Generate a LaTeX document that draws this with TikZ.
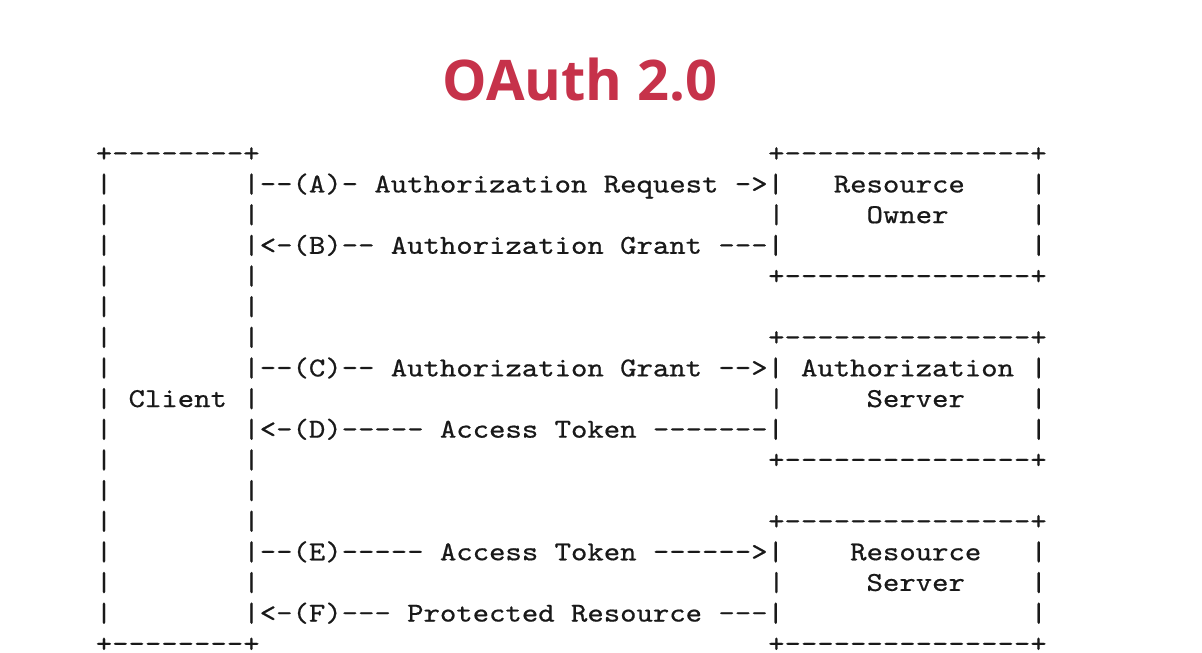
\documentclass[tikz,border=0pt]{standalone}
\usepackage{fontspec}
\newfontfamily\titlefont{Open Sans}
\newfontfamily\asciifont{lmmono10-regular.otf}[FakeStretch=1.143,FakeBold=0.6]
\definecolor{oauthred}{RGB}{198,50,74}
\definecolor{asciiink}{RGB}{25,25,25}
\newcommand\blank{\hphantom{-}}
\tikzset{
  cell/.style={anchor=base west, inner sep=0pt, outer sep=0pt,
    font=\asciifont\fontsize{27.3}{27.3}\selectfont, text=asciiink},
  titlestyle/.style={anchor=base, inner sep=0pt,
    font=\titlefont\bfseries\fontsize{56}{56}\selectfont, text=oauthred}
}
\newcommand\cellat[4]{\node[cell] (#1) at ({95.8+16.4*(#2)},{161.8+30.65*(#3)}) {#4};}
\begin{document}
\begin{tikzpicture}[x=1pt,y=-1pt]
\fill[white] (0,0) rectangle (1202,653);
\useasboundingbox (0,0) rectangle (1202,653);
\node[titlestyle] (title) at (580,100) {OAuth 2.0};
% row 0
\cellat{clienttop}{0}{0}{+--------+}
\cellat{ownertop}{41}{0}{+---------------+}
% row 1
\cellat{l1}{0}{1}{|}
\cellat{msgA}{9}{1}{|--(A)-\blank Authorization\blank Request\blank ->|}
\cellat{owner1}{45}{1}{Resource}
\cellat{r1}{57}{1}{|}
% row 2
\cellat{l2}{0}{2}{|}
\cellat{m2}{9}{2}{|}
\cellat{b2}{41}{2}{|}
\cellat{owner2}{47}{2}{Owner}
\cellat{r2}{57}{2}{|}
% row 3
\cellat{l3}{0}{3}{|}
\cellat{msgB}{9}{3}{|<-(B)--\blank Authorization\blank Grant\blank ---|}
\cellat{r3}{57}{3}{|}
% row 4
\cellat{l4}{0}{4}{|}
\cellat{m4}{9}{4}{|}
\cellat{ownerbot}{41}{4}{+---------------+}
% row 5
\cellat{l5}{0}{5}{|}
\cellat{m5}{9}{5}{|}
% row 6
\cellat{l6}{0}{6}{|}
\cellat{m6}{9}{6}{|}
\cellat{authtop}{41}{6}{+---------------+}
% row 7
\cellat{l7}{0}{7}{|}
\cellat{msgC}{9}{7}{|--(C)--\blank Authorization\blank Grant\blank -->|}
\cellat{auth1}{43}{7}{Authorization}
\cellat{r7}{57}{7}{|}
% row 8
\cellat{l8}{0}{8}{|}
\cellat{client}{2}{8}{Client}
\cellat{m8}{9}{8}{|}
\cellat{b8}{41}{8}{|}
\cellat{auth2}{47}{8}{Server}
\cellat{r8}{57}{8}{|}
% row 9
\cellat{l9}{0}{9}{|}
\cellat{msgD}{9}{9}{|<-(D)-----\blank Access\blank Token\blank -------|}
\cellat{r9}{57}{9}{|}
% row 10
\cellat{l10}{0}{10}{|}
\cellat{m10}{9}{10}{|}
\cellat{authbot}{41}{10}{+---------------+}
% row 11
\cellat{l11}{0}{11}{|}
\cellat{m11}{9}{11}{|}
% row 12
\cellat{l12}{0}{12}{|}
\cellat{m12}{9}{12}{|}
\cellat{rstop}{41}{12}{+---------------+}
% row 13
\cellat{l13}{0}{13}{|}
\cellat{msgE}{9}{13}{|--(E)-----\blank Access\blank Token\blank ------>|}
\cellat{rs1}{46}{13}{Resource}
\cellat{r13}{57}{13}{|}
% row 14
\cellat{l14}{0}{14}{|}
\cellat{m14}{9}{14}{|}
\cellat{b14}{41}{14}{|}
\cellat{rs2}{47}{14}{Server}
\cellat{r14}{57}{14}{|}
% row 15
\cellat{l15}{0}{15}{|}
\cellat{msgF}{9}{15}{|<-(F)---\blank Protected\blank Resource\blank ---|}
\cellat{r15}{57}{15}{|}
% row 16
\cellat{clientbot}{0}{16}{+--------+}
\cellat{rsbot}{41}{16}{+---------------+}
\end{tikzpicture}
\end{document}
